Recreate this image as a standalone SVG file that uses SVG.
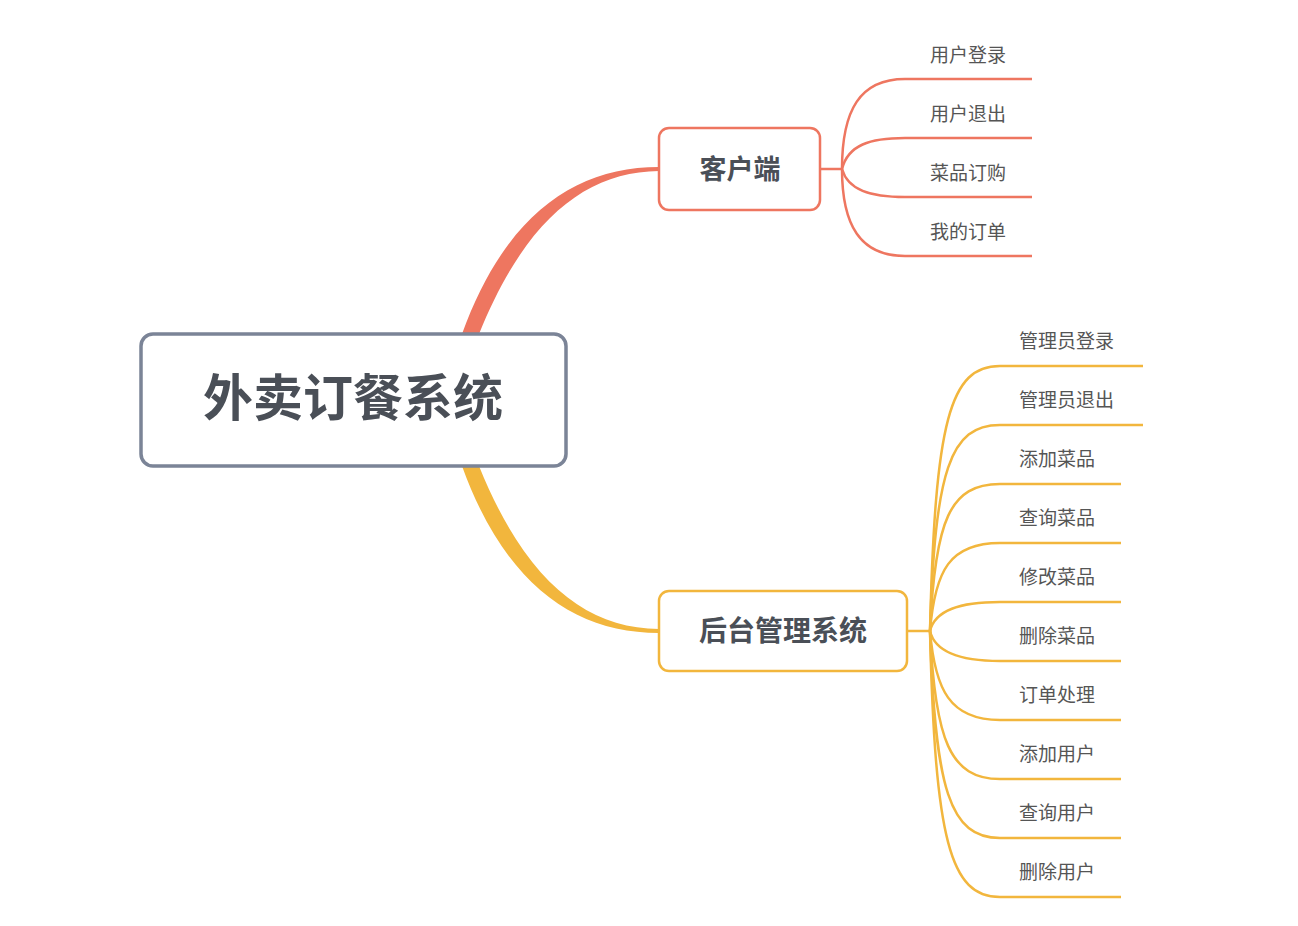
<svg xmlns="http://www.w3.org/2000/svg" width="1298" height="926" viewBox="0 0 1298 926">
<style>
.r{fill:none;stroke:#EE7660;stroke-width:2.5}
.y{fill:none;stroke:#F2B63D;stroke-width:2.5}
.t{font-family:"Noto Sans CJK SC",sans-serif;fill:#4a4f57}
.leaf{font-size:19px;fill:#555}
</style>
<rect width="1298" height="926" fill="#fff"/>
<g id="connectors">
<path d="M462,334 C505,215 575,167 659,167 L659,171 C585,172 525,220 479,334 Z" fill="#EE7660"/>
<path d="M462,466 C505,585 575,633 659,633 L659,629 C585,628 525,580 479,466 Z" fill="#F2B63D"/>
<path class="r" d="M820,169 H842"/>
<g class="r">
<path d="M842,169 C842,110 860,79 905,79 H1032"/>
<path d="M842,169 C848,145 870,138 905,138 H1032"/>
<path d="M842,169 C848,190 870,197 905,197 H1032"/>
<path d="M842,169 C842,225 860,256 905,256 H1032"/>
</g>
<path class="y" d="M907,631 H930"/>
<g class="y">
<path d="M930,631 C935,420 950,366 1000,366 H1143"/>
<path d="M930,631 C935,470 950,425 1000,425 H1143"/>
<path d="M930,631 C935,520 950,484 1000,484 H1121"/>
<path d="M930,631 C935,570 950,543 1000,543 H1121"/>
<path d="M930,631 C935,610 960,602 1000,602 H1121"/>
<path d="M930,631 C935,652 960,661 1000,661 H1121"/>
<path d="M930,631 C935,690 950,720 1000,720 H1121"/>
<path d="M930,631 C935,740 950,779 1000,779 H1121"/>
<path d="M930,631 C935,790 950,838 1000,838 H1121"/>
<path d="M930,631 C935,840 950,897 1000,897 H1121"/>
</g>
</g>
<g id="root"><rect x="141" y="334" width="425" height="132" rx="12" fill="#fff" stroke="#7B8497" stroke-width="3.5"/>
<text class="t" x="353" y="416" font-size="50" font-weight="bold" text-anchor="middle">外卖订餐系统</text></g>
<g id="client"><rect x="659" y="128" width="161" height="82" rx="10" fill="#fff" stroke="#EE7660" stroke-width="2.5"/>
<text class="t" x="740" y="179" font-size="27" font-weight="bold" text-anchor="middle">客户端</text></g>
<g id="admin"><rect x="659" y="591" width="248" height="80" rx="10" fill="#fff" stroke="#F2B63D" stroke-width="2.5"/>
<text class="t" x="783" y="641" font-size="28" font-weight="bold" text-anchor="middle">后台管理系统</text></g>
<g class="t leaf">
<text id="c1" x="930" y="62">用户登录</text>
<text id="c2" x="930" y="121">用户退出</text>
<text id="c3" x="930" y="180">菜品订购</text>
<text id="c4" x="930" y="239">我的订单</text>
<text id="a1" x="1019" y="348">管理员登录</text>
<text id="a2" x="1019" y="407">管理员退出</text>
<text id="a3" x="1019" y="466">添加菜品</text>
<text id="a4" x="1019" y="525">查询菜品</text>
<text id="a5" x="1019" y="584">修改菜品</text>
<text id="a6" x="1019" y="643">删除菜品</text>
<text id="a7" x="1019" y="702">订单处理</text>
<text id="a8" x="1019" y="761">添加用户</text>
<text id="a9" x="1019" y="820">查询用户</text>
<text id="a10" x="1019" y="879">删除用户</text>
</g>
</svg>
